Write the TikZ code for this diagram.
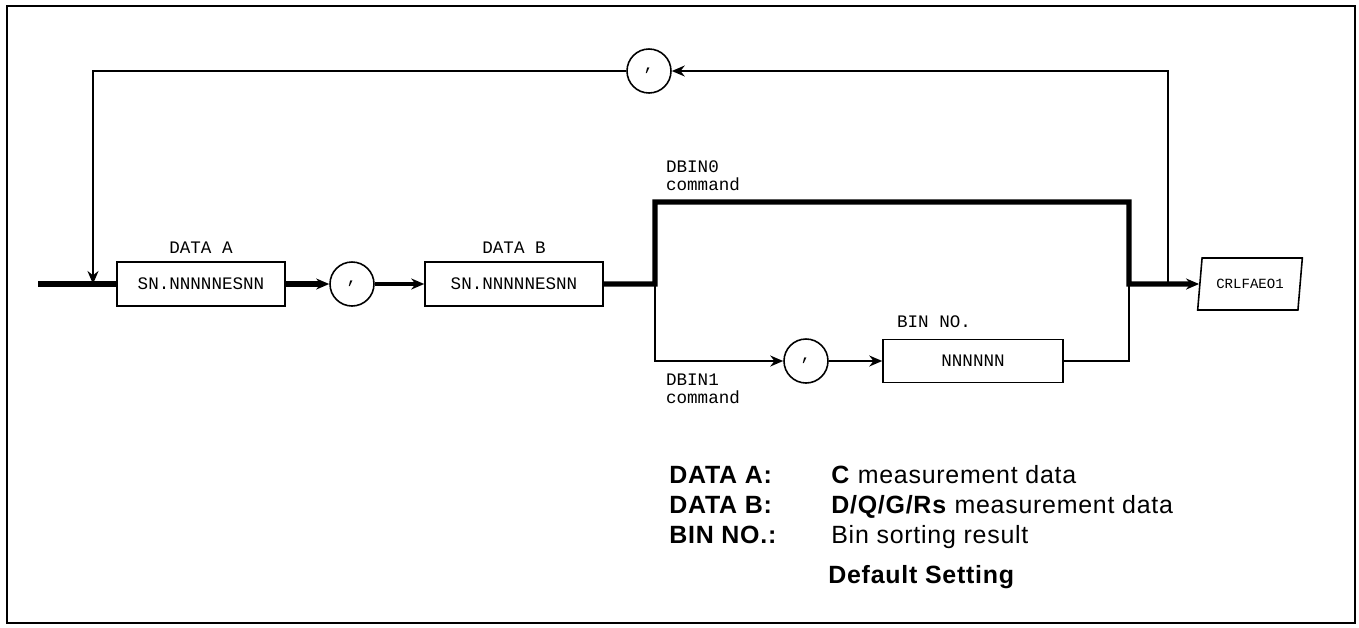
\documentclass[tikz,border=0pt]{standalone}
\usepackage{fontspec}
\setmainfont{Liberation Sans}
\setmonofont{Liberation Mono}
\newfontfamily\legfont[LetterSpace=3]{Liberation Sans}
\usetikzlibrary{arrows.meta,positioning,shapes.geometric}
\tikzset{
  synbox/.style={draw, line width=0.9pt, minimum height=0.88cm, inner sep=2pt, font=\ttfamily\fontsize{10}{11}\selectfont},
  sepcirc/.style={circle, draw, line width=0.9pt, minimum size=0.88cm, inner sep=0pt, font=\ttfamily\fontsize{10}{11}\selectfont},
  termbox/.style={trapezium, trapezium left angle=76, trapezium right angle=104, trapezium stretches=true, draw, line width=0.9pt, minimum width=2.1cm, minimum height=1.04cm, inner sep=1pt, font=\ttfamily\fontsize{8}{9}\selectfont},
  synlabel/.style={font=\ttfamily\fontsize{10}{10.4}\selectfont, align=left, inner sep=1pt},
  legtext/.style={font=\legfont\fontsize{14.2}{16}\selectfont, anchor=base west, inner sep=0pt},
  mainline/.style={line width=3pt},
  thinline/.style={line width=0.9pt},
  tip/.style={-{Stealth[length=2.6mm,width=2.2mm]}}
}

\begin{document}
\begin{tikzpicture}[x=0.02cm, y=-0.02cm]
\useasboundingbox (0,0) rectangle (1359,627);
\draw[line width=1.2pt] (7,6) rectangle (1355,623);

% syntax path
\coordinate (in) at (38,284);
\coordinate (fbin) at (93,284);
\node[synbox, minimum width=3.36cm] (dataA) at (201,284) {SN.NNNNNESNN};
\node[sepcirc] (c1) at (352,284) {,};
\node[synbox, minimum width=3.56cm] (dataB) at (514,284) {SN.NNNNNESNN};
\coordinate (split) at (655,284);
\coordinate (topR) at (1129,202);
\coordinate (merge) at (1129,284);
\coordinate (fbout) at (1168,284);
\node[sepcirc] (c2) at (806,361) {,};
\node[synbox, minimum width=3.6cm, minimum height=0.86cm] (binno) at (973,361) {NNNNNN};
\node[termbox] (term) at (1250,284) {CRLFAEO1};
\node[sepcirc] (c3) at (649,71) {,};

% labels
\node[synlabel, above=3pt of dataA] (labA) {DATA A};
\node[synlabel, above=3pt of dataB] (labB) {DATA B};
\node[synlabel] (labN) at (934,322) {BIN NO.};
\node[synlabel, anchor=south west] (lab0) at (664,193) {DBIN0\\command};
\node[synlabel, anchor=north west] (lab1) at (664,372) {DBIN1\\command};

% connectors
\draw[mainline] (in) -- (dataA);
\draw[mainline, tip] (dataA) -- (c1);
\draw[line width=2pt, tip] (c1) -- (dataB);
\draw[mainline, tip] (dataB) -- (split) |- (topR) -- (merge) -- (term);
\draw[thinline, tip] (split) |- (c2);
\draw[thinline, tip] (c2) -- (binno);
\draw[thinline] (binno) -| (merge);
\draw[thinline, tip] (fbout) |- (c3);
\draw[thinline, tip] (c3) -| (fbin);

% legend
\node[legtext] (keyA) at (669,483) {\bfseries DATA A:};
\node[legtext] (valA) at (831,483) {\textbf{C} measurement data};
\node[legtext] (keyB) at (669,513) {\bfseries DATA B:};
\node[legtext] (valB) at (831,513) {\textbf{D/Q/G/Rs} measurement data};
\node[legtext] (keyN) at (669,543) {\bfseries BIN NO.:};
\node[legtext] (valN) at (831,543) {Bin sorting result};
\node[legtext] (dflt) at (828,583) {\bfseries Default Setting};
\end{tikzpicture}
\end{document}
